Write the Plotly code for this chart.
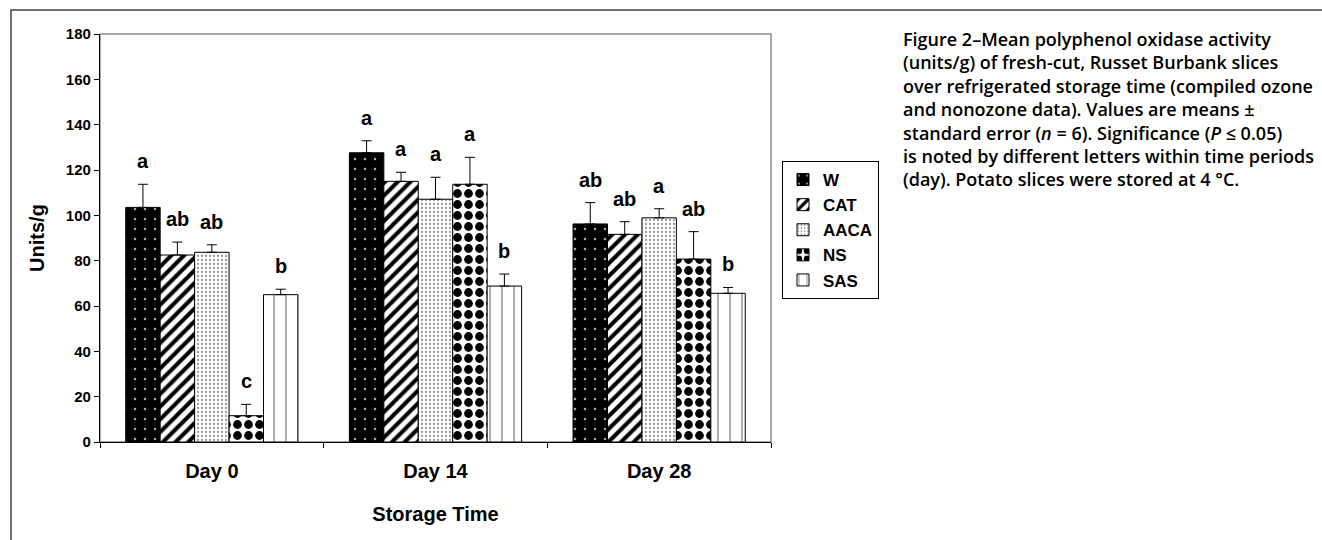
import plotly.graph_objects as go

categories = ["Day 0", "Day 14", "Day 28"]
treatments = ["W", "CAT", "AACA", "NS", "SAS"]
means = {
    "W":    [103.5, 127.6, 96.2],
    "CAT":  [82.5, 115.0, 91.6],
    "AACA": [83.7, 107.1, 98.9],
    "NS":   [11.6, 113.7, 80.7],
    "SAS":  [65.0, 68.8, 65.6],
}
errors = {
    "W":    [10.2, 5.3, 9.4],
    "CAT":  [5.7, 4.0, 5.6],
    "AACA": [3.3, 9.7, 4.0],
    "NS":   [5.0, 11.9, 12.1],
    "SAS":  [2.4, 5.3, 2.6],
}
letters = {
    "W":    ["a", "a", "ab"],
    "CAT":  ["ab", "a", "ab"],
    "AACA": ["ab", "a", "a"],
    "NS":   ["c", "a", "ab"],
    "SAS":  ["b", "b", "b"],
}
y_ticks = [0, 20, 40, 60, 80, 100, 120, 140, 160, 180]
caption_lines = [
    "Figure 2–Mean polyphenol oxidase activity",
    "(units∕g) of fresh-cut, Russet Burbank slices",
    "over refrigerated storage time (compiled ozone",
    "and nonozone data). Values are means ±",
    "standard error (<i>n</i> = 6). Significance (<i>P</i> ≤ 0.05)",
    "is noted by different letters within time periods",
    "(day). Potato slices were stored at 4 °C.",
]

patterns = {
    "W":    dict(shape=".", bgcolor="black", fgcolor="#a8a8a8", size=10, solidity=0.05, fillmode="replace"),
    "CAT":  dict(shape="/", bgcolor="white", fgcolor="black", size=9, solidity=0.45, fillmode="replace"),
    "AACA": dict(shape=".", bgcolor="white", fgcolor="#9a9a9a", size=4, solidity=0.25, fillmode="replace"),
    "NS":   dict(shape=".", bgcolor="white", fgcolor="black", size=11, solidity=0.5, fillmode="replace"),
    "SAS":  dict(shape="|", bgcolor="white", fgcolor="#a6a6a6", size=12, solidity=0.15, fillmode="replace"),
}

FONT = "Arial, Liberation Sans, sans-serif"
BARGAP = 0.23
L, R, T, B = 100, 551, 34, 98
W_PX, H_PX = 1322, 540
plot_w = W_PX - L - R
plot_h = H_PX - T - B

fig = go.Figure()
for t in treatments:
    fig.add_trace(go.Bar(
        name=t, x=categories, y=means[t],
        marker=dict(color="white", line=dict(color="black", width=1), pattern=patterns[t]),
        error_y=dict(type="data", array=errors[t], arrayminus=[0] * len(categories),
                     symmetric=False, color="black", thickness=1, width=5),
    ))

annotations = []
n = len(treatments)
bw = (1 - BARGAP) / n
for j, t in enumerate(treatments):
    for i, c in enumerate(categories):
        annotations.append(dict(
            x=i + (j - (n - 1) / 2) * bw, xref="x", y=means[t][i] + errors[t][i], yref="y",
            text=letters[t][i], showarrow=False, yanchor="bottom", yshift=10,
            font=dict(family=FONT, size=20, color="black", weight="bold"),
        ))

def px_x(p):
    return (p - L) / plot_w

def px_y(p):
    return (H_PX - B - p) / plot_h

annotations.append(dict(
    x=px_x(902), xref="paper", y=px_y(108.6), yref="paper",
    text="<br>".join(caption_lines), showarrow=False, xanchor="left", yanchor="middle",
    align="left", borderpad=0,
    font=dict(family="Open Sans", size=18, color="black", weight=600),
))

shapes = [
    # plot-area border (grey top and right)
    dict(type="rect", xref="paper", yref="paper", x0=0, x1=1, y0=0, y1=1,
         line=dict(color="#8c8c8c", width=1.5), layer="below"),
    # outer chart frame
    dict(type="rect", xref="paper", yref="paper", x0=px_x(11), x1=px_x(1330),
         y0=px_y(10), y1=px_y(560), line=dict(color="#444", width=1.5), layer="below"),
]

fig.update_layout(
    width=W_PX, height=H_PX,
    margin=dict(l=L, r=R, t=T, b=B, pad=0),
    paper_bgcolor="white", plot_bgcolor="white",
    barmode="group", bargap=BARGAP, bargroupgap=0,
    font=dict(family=FONT, color="black"),
    showlegend=True,
    legend=dict(x=px_x(782), y=px_y(161), xanchor="left", yanchor="top",
                bordercolor="black", borderwidth=1, bgcolor="white",
                font=dict(family=FONT, size=17, color="black", weight="bold"),
                itemwidth=30, tracegroupgap=0),
    xaxis=dict(
        showline=True, linecolor="black", linewidth=1.2,
        ticks="outside", ticklen=5, tickcolor="black", tickson="boundaries",
        tickfont=dict(family=FONT, size=20, color="black", weight="bold"),
        ticklabelstandoff=11,
        title=dict(text="Storage Time", font=dict(family=FONT, size=20, color="black", weight="bold"), standoff=25),
        showgrid=False, zeroline=False,
    ),
    yaxis=dict(
        range=[0, 180], tickvals=y_ticks,
        showline=True, linecolor="black", linewidth=1.2,
        ticks="outside", ticklen=5, tickcolor="black",
        tickfont=dict(family=FONT, size=15, color="black", weight="bold"),
        title=dict(text="Units/g", font=dict(family=FONT, size=20, color="black", weight="bold"), standoff=15),
        showgrid=False, zeroline=False,
    ),
    annotations=annotations,
    shapes=shapes,
)

fig.write_html("out.html")
